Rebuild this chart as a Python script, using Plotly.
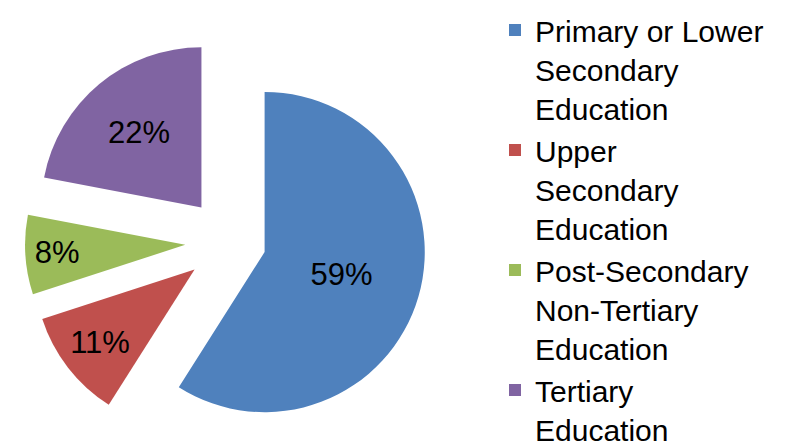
import plotly.graph_objects as go

categories = ["Primary or Lower<br>Secondary<br>Education",
              "Upper<br>Secondary<br>Education",
              "Post-Secondary<br>Non-Tertiary<br>Education",
              "Tertiary<br>Education"]
values = [59, 11, 8, 22]
colors = ["#4F81BD", "#C0504D", "#9BBB59", "#8064A2"]
pulls = [0.225, 0.28, 0.28, 0.28]

W, H = 796, 447
ry = 205
cx = 230

fig = go.Figure(go.Pie(
    labels=categories,
    values=values,
    sort=False,
    direction="clockwise",
    rotation=0,
    pull=pulls,
    marker=dict(colors=colors, line=dict(width=0)),
    textinfo="percent",
    texttemplate="%{percent:.0%}",
    textposition="inside",
    insidetextorientation="horizontal",
    textfont=dict(family="Liberation Sans, Arial, sans-serif", size=31, color="black"),
    domain=dict(x=[(cx - ry) / W, (cx + ry) / W], y=[0, 2 * ry / H]),
    hoverinfo="label+percent",
))

fig.update_layout(
    width=W, height=H,
    margin=dict(l=0, r=0, t=0, b=0, autoexpand=False),
    paper_bgcolor="white",
    plot_bgcolor="white",
    showlegend=True,
    legend=dict(
        x=495 / W, xanchor="left",
        y=1.0 - 4 / H, yanchor="top",
        valign="top",
        maxheight=800,
        font=dict(family="Liberation Sans, Arial, sans-serif", size=30, color="black"),
        tracegroupgap=0,
        bgcolor="rgba(0,0,0,0)",
    ),
)

fig.write_html("out.html", config={"displayModeBar": False},
               post_script="document.body.style.margin='0px';")
